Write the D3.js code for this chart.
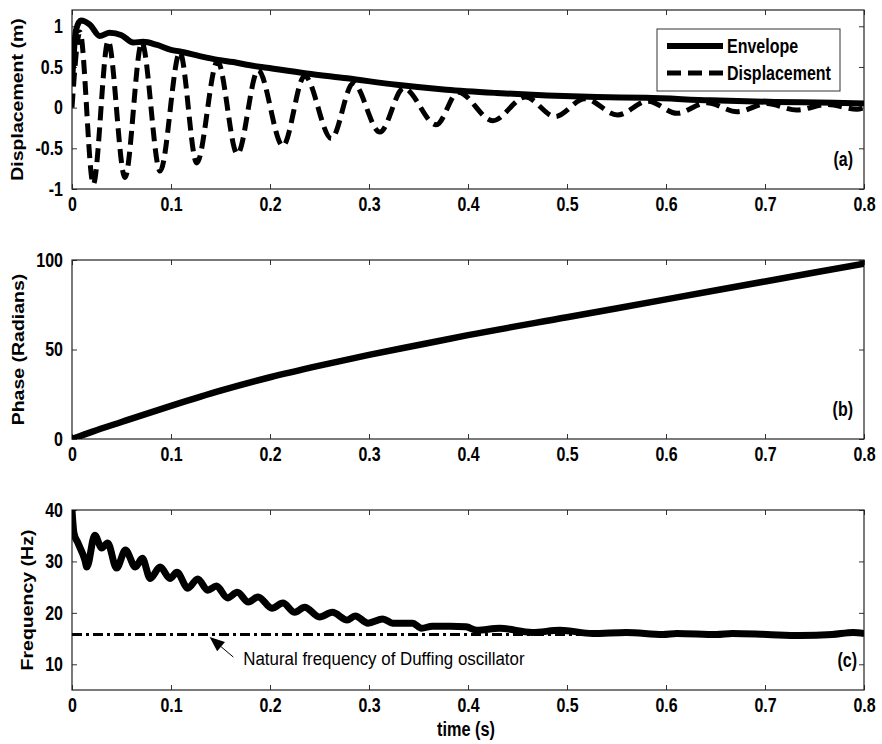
<!DOCTYPE html>
<html>
<head>
<meta charset="utf-8">
<script src="https://cdn.jsdelivr.net/npm/d3@7"></script>
<style>
  body { margin: 0; background: #fff; }
  svg { display: block; font-family: "Liberation Sans", Arial, sans-serif; }
  .tall  { transform-box: fill-box; transform-origin: center; transform: scaleY(1.22); }
  .tallx { transform-box: fill-box; transform-origin: center; transform: scaleX(1.22); }
  .note  { transform-box: fill-box; transform-origin: center; transform: scaleY(1.1); }
</style>
</head>
<body>
<svg id="chart" width="882" height="744"></svg>
<script>
// ---- tick values and labels ----
const timeTicks = [0, 0.1, 0.2, 0.3, 0.4, 0.5, 0.6, 0.7, 0.8];
const timeTickLabels = ["0", "0.1", "0.2", "0.3", "0.4", "0.5", "0.6", "0.7", "0.8"];
const dispTicks = [-1, -0.5, 0, 0.5, 1];
const dispTickLabels = ["-1", "-0.5", "0", "0.5", "1"];
const phaseTicks = [0, 50, 100];
const phaseTickLabels = ["0", "50", "100"];
const freqTicks = [10, 20, 30, 40];
const freqTickLabels = ["10", "20", "30", "40"];

// ---- (a) envelope and displacement ----
const envelopeT = [0, 0.004, 0.009, 0.018, 0.028, 0.038, 0.05, 0.062, 0.072, 0.086, 0.1, 0.109, 0.13, 0.146, 0.163, 0.18, 0.197, 0.237, 0.278, 0.328, 0.378, 0.429, 0.48, 0.53, 0.58, 0.645, 0.71, 0.77, 0.8];
const envelopeV = [0.3, 0.95, 1.07, 1.02, 0.88, 0.92, 0.89, 0.80, 0.81, 0.77, 0.71, 0.69, 0.63, 0.59, 0.56, 0.52, 0.49, 0.42, 0.36, 0.28, 0.22, 0.18, 0.15, 0.13, 0.12, 0.09, 0.07, 0.06, 0.05];

const displacementT = [0, 0.008, 0.0215, 0.0365, 0.0535, 0.0705, 0.089, 0.109, 0.126, 0.147, 0.167, 0.188, 0.213, 0.235, 0.262, 0.284, 0.311, 0.335, 0.368, 0.39, 0.425, 0.458, 0.488, 0.518, 0.551, 0.582, 0.611, 0.641, 0.672, 0.702, 0.732, 0.763, 0.793, 0.8];
const displacementV = [0, 0.93, -0.94, 0.82, -0.86, 0.80, -0.78, 0.68, -0.68, 0.57, -0.57, 0.46, -0.47, 0.39, -0.38, 0.30, -0.30, 0.24, -0.21, 0.19, -0.16, 0.13, -0.11, 0.11, -0.09, 0.08, -0.07, 0.06, -0.05, 0.05, -0.03, 0.04, -0.02, 0];

// ---- (b) instantaneous phase ----
const phaseT = [0, 0.02, 0.05, 0.1, 0.15, 0.2, 0.25, 0.3, 0.35, 0.4, 0.5, 0.6, 0.7, 0.8];
const phaseV = [0, 4, 9.5, 18.5, 27, 34.5, 41, 47, 52.5, 58, 68, 78, 88, 98];

// ---- (c) instantaneous frequency ----
const freqT = [0, 0.002, 0.006, 0.013, 0.015, 0.023, 0.030, 0.036, 0.045, 0.054, 0.064, 0.071, 0.079, 0.089, 0.099, 0.106, 0.117, 0.127, 0.137, 0.146, 0.157, 0.167, 0.178, 0.188, 0.202, 0.213, 0.225, 0.235, 0.250, 0.263, 0.278, 0.286, 0.299, 0.314, 0.324, 0.344, 0.353, 0.364, 0.382, 0.398, 0.409, 0.432, 0.465, 0.493, 0.526, 0.560, 0.597, 0.611, 0.651, 0.667, 0.702, 0.735, 0.768, 0.789, 0.8];
const freqV = [40, 35.5, 33.6, 30.3, 28.9, 35.1, 32.6, 33.6, 28.7, 32.2, 28.9, 30.6, 26.7, 28.9, 26.7, 27.9, 24.8, 26.6, 24.4, 25.2, 22.9, 24.0, 22.1, 23.1, 20.9, 21.9, 20.1, 21.1, 19.2, 20.1, 18.6, 19.4, 18.0, 18.8, 18.0, 18.0, 17.0, 17.4, 17.4, 17.3, 16.6, 17.0, 16.2, 16.6, 16.0, 16.2, 15.8, 16.0, 15.8, 16.0, 15.8, 15.6, 15.8, 16.2, 16.0];

const naturalFrequency = 15.8;
const noteText = "Natural frequency of Duffing oscillator";
const arrowTail = [0.163, 11.4];
const arrowTip = [0.139, 15.3];
const notePos = [0.173, 9.9];

// ---- layout ----
const svg = d3.select("#chart");
const left = 72, right = 864;
const x = d3.scaleLinear().domain([0, 0.8]).range([left, right]);

function makePanel(id, top, bottom, yDomain, ticks, tickLabels, title, titleX, tag, tagX, tagY) {
  const y = d3.scaleLinear().domain(yDomain).range([bottom, top]);
  const g = svg.append("g");

  g.append("clipPath").attr("id", "clip-" + id)
    .append("rect").attr("x", left).attr("y", top)
    .attr("width", right - left).attr("height", bottom - top);

  // inward ticks on all four sides
  const fmtX = d => timeTickLabels[timeTicks.indexOf(d)];
  const fmtY = d => tickLabels[ticks.indexOf(d)];
  const bottomAx = g.append("g").attr("transform", `translate(0,${bottom})`)
    .call(d3.axisBottom(x).tickValues(timeTicks).tickFormat(fmtX)
      .tickSizeInner(-5).tickSizeOuter(0).tickPadding(9));
  g.append("g").attr("transform", `translate(0,${top})`)
    .call(d3.axisTop(x).tickValues(timeTicks).tickFormat("")
      .tickSizeInner(-5).tickSizeOuter(0));
  const leftAx = g.append("g").attr("transform", `translate(${left},0)`)
    .call(d3.axisLeft(y).tickValues(ticks).tickFormat(fmtY)
      .tickSizeInner(-5).tickSizeOuter(0).tickPadding(9));
  g.append("g").attr("transform", `translate(${right},0)`)
    .call(d3.axisRight(y).tickValues(ticks).tickFormat("")
      .tickSizeInner(-5).tickSizeOuter(0));
  g.selectAll(".domain").remove();
  g.selectAll(".tick line").attr("stroke", "#333").attr("stroke-width", 1);
  [bottomAx, leftAx].forEach(a => a.selectAll("text")
    .attr("class", "tall").attr("fill", "#000")
    .style("font-size", "16px").style("font-weight", "bold")
    .style("font-family", '"Liberation Sans", Arial, sans-serif'));

  g.append("rect").attr("x", left).attr("y", top)
    .attr("width", right - left).attr("height", bottom - top)
    .attr("fill", "none").attr("stroke", "#222").attr("stroke-width", 1.2);

  // rotated y title
  g.append("g").attr("transform", `translate(${titleX},${(top + bottom) / 2}) rotate(-90)`)
    .append("text").attr("class", "tallx").attr("text-anchor", "middle")
    .style("font-size", "16px").style("font-weight", "bold").text(title);

  g.append("text").attr("class", "tall").attr("x", tagX).attr("y", tagY)
    .attr("text-anchor", "end").style("font-size", "16px").style("font-weight", "bold")
    .text(tag);

  const plot = g.append("g").attr("clip-path", `url(#clip-${id})`);
  return { y, plot, g };
}

const pA = makePanel("a", 10, 189, [-1, 1.2], dispTicks, dispTickLabels, "Displacement (m)", 23, "(a)", 853, 165);
const pB = makePanel("b", 260, 439, [0, 100], phaseTicks, phaseTickLabels, "Phase (Radians)", 24, "(b)", 853, 415);
const pC = makePanel("c", 510, 690, [5, 40], freqTicks, freqTickLabels, "Frequency (Hz)", 33, "(c)", 857, 666);

function series(ts, vs) { return ts.map((t, i) => [t, vs[i]]); }
function lineFor(p) {
  return d3.line().x(d => x(d[0])).y(d => p.y(d[1])).curve(d3.curveMonotoneX);
}

// (a) displacement under the envelope
pA.plot.append("path").datum(series(displacementT, displacementV))
  .attr("d", lineFor(pA)).attr("fill", "none").attr("stroke", "#000")
  .attr("stroke-width", 5).attr("stroke-dasharray", "14,7");
pA.plot.append("path").datum(series(envelopeT, envelopeV))
  .attr("d", lineFor(pA)).attr("fill", "none").attr("stroke", "#000")
  .attr("stroke-width", 6).attr("stroke-linejoin", "round");

// legend
const lg = svg.append("g");
lg.append("rect").attr("x", 657).attr("y", 29).attr("width", 183).attr("height", 62)
  .attr("fill", "#fff").attr("stroke", "#333").attr("stroke-width", 1);
lg.append("line").attr("x1", 667).attr("x2", 723).attr("y1", 46).attr("y2", 46)
  .attr("stroke", "#000").attr("stroke-width", 6);
lg.append("line").attr("x1", 667).attr("x2", 723).attr("y1", 73).attr("y2", 73)
  .attr("stroke", "#000").attr("stroke-width", 5).attr("stroke-dasharray", "14,7");
[["Envelope", 52], ["Displacement", 79]].forEach(([t, yy]) =>
  lg.append("text").attr("class", "tall").attr("x", 727).attr("y", yy)
    .style("font-size", "16px").style("font-weight", "bold").text(t));

// (b) phase
pB.plot.append("path").datum(series(phaseT, phaseV))
  .attr("d", lineFor(pB)).attr("fill", "none").attr("stroke", "#000")
  .attr("stroke-width", 6.5).attr("stroke-linecap", "round");

// (c) natural frequency reference line, then frequency
pC.plot.append("line").attr("x1", x(0)).attr("x2", x(0.8))
  .attr("y1", pC.y(naturalFrequency)).attr("y2", pC.y(naturalFrequency))
  .attr("stroke", "#000").attr("stroke-width", 3).attr("stroke-dasharray", "10,4,3,4");
pC.plot.append("path").datum(series(freqT, freqV))
  .attr("d", lineFor(pC)).attr("fill", "none").attr("stroke", "#000")
  .attr("stroke-width", 7).attr("stroke-linejoin", "round");

// annotation arrow
const tx = x(arrowTail[0]), ty = pC.y(arrowTail[1]);
const hx = x(arrowTip[0]), hy = pC.y(arrowTip[1]);
const ang = Math.atan2(hy - ty, hx - tx);
const headLen = 15, headW = 6;
const bx = hx - headLen * Math.cos(ang), by = hy - headLen * Math.sin(ang);
pC.g.append("line").attr("x1", tx).attr("y1", ty).attr("x2", bx).attr("y2", by)
  .attr("stroke", "#000").attr("stroke-width", 1);
pC.g.append("path")
  .attr("d", `M${hx},${hy}L${bx + headW * Math.sin(ang)},${by - headW * Math.cos(ang)}L${bx - headW * Math.sin(ang)},${by + headW * Math.cos(ang)}Z`)
  .attr("fill", "#000");
pC.g.append("text").attr("class", "note").attr("x", x(notePos[0])).attr("y", pC.y(notePos[1]))
  .style("font-size", "16.9px").text(noteText);

// shared x title
svg.append("text").attr("class", "tall").attr("x", 466).attr("y", 735)
  .attr("text-anchor", "middle").style("font-size", "16.3px").style("font-weight", "bold")
  .text("time (s)");
</script>
</body>
</html>
